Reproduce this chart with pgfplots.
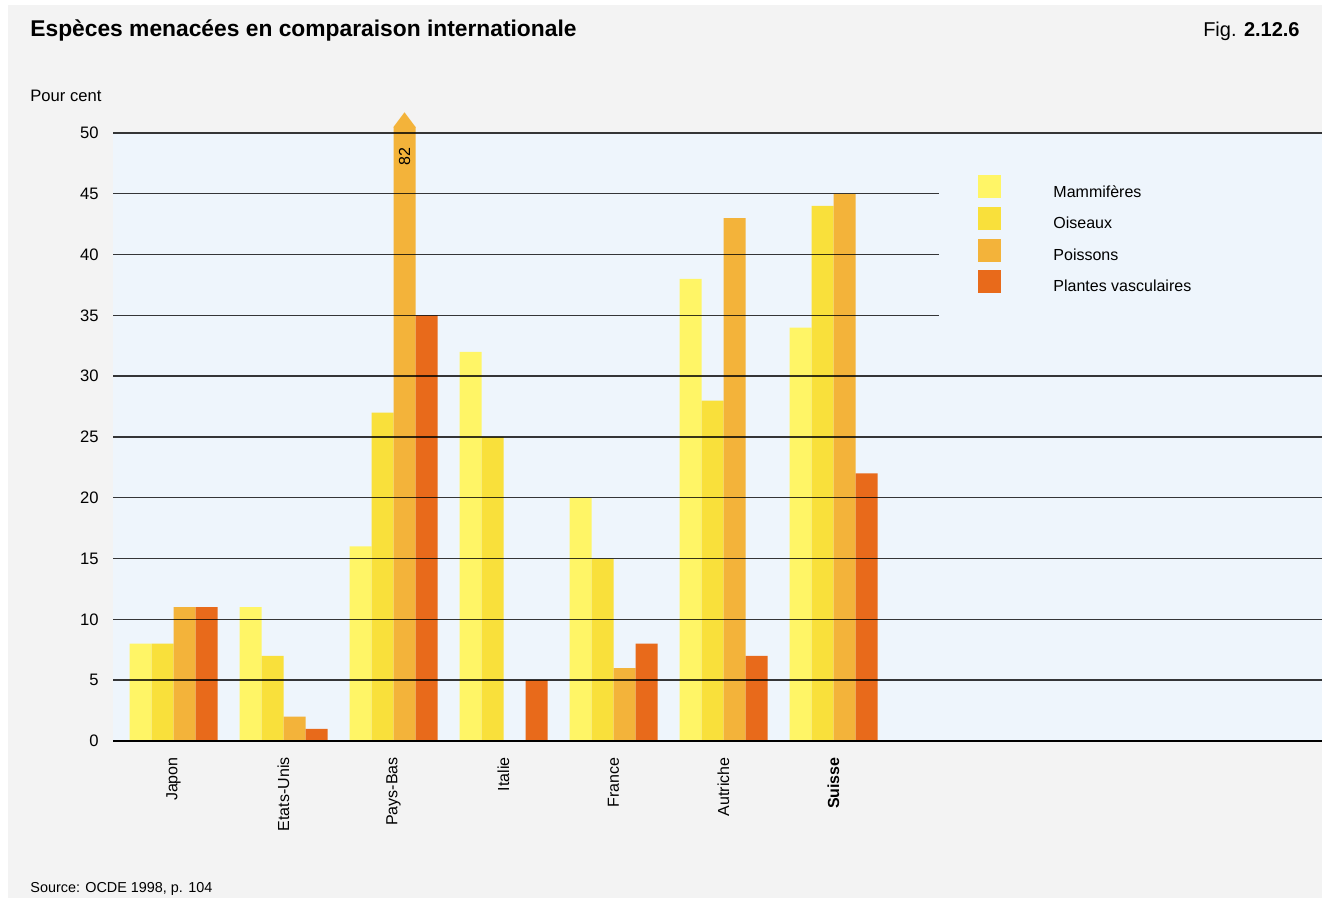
\documentclass[border=0pt]{standalone}
\usepackage{pgfplots}
\pgfplotsset{compat=1.18}
\usepackage{fontspec}
\setmainfont{Liberation Sans}
\definecolor{mam}{HTML}{FFF566}
\definecolor{ois}{HTML}{F9E03B}
\definecolor{poi}{HTML}{F3B33A}
\definecolor{pla}{HTML}{E86A1B}
\definecolor{bgblue}{HTML}{EEF5FC}
\definecolor{bggrey}{HTML}{F3F3F3}
\begin{document}
\begin{tikzpicture}
\fill[white] (0,0) rectangle (661pt,449pt);
\fill[bggrey] (4pt,0) rectangle (661pt,446.5pt);
\path[use as bounding box] (0,0) rectangle (661pt,449pt);
\node[anchor=base west, inner sep=0pt, font=\fontsize{11.4}{13}\selectfont\bfseries] at (15pt,430.5pt) {Espèces menacées en comparaison internationale};
\node[anchor=base east, inner sep=0pt, font=\fontsize{10}{12}\selectfont] at (650pt,430.5pt) {Fig. \textbf{2.12.6}};
\node[anchor=base west, inner sep=0pt, font=\fontsize{8.3}{10}\selectfont] at (15pt,398pt) {Pour cent};
\node[anchor=base west, inner sep=0pt, font=\fontsize{7.2}{9}\selectfont] at (15pt,2.5pt) {Source: OCDE 1998, p. 104};
\begin{axis}[
  at={(56.5pt,78.5pt)}, anchor=south west,
  scale only axis, width=604.5pt, height=304pt,
  xmin=-0.55, xmax=10.441, ymin=0, ymax=50,
  axis line style={draw=none},
  axis background/.style={fill=bgblue},
  clip=false,
  xtick={0,...,6},
  xticklabels={Japon,Etats-Unis,Pays-Bas,Italie,France,Autriche,\textbf{Suisse}},
  ytick={0,5,...,50},
  major tick length=0pt,
  tick style={draw=none},
  /pgf/number format/assume math mode=true,
  yticklabel style={anchor=east, inner sep=0pt, font=\fontsize{8.3}{10}\selectfont},
  yticklabel shift=7pt,
  xticklabel style={rotate=90, anchor=east, inner sep=0pt, font=\fontsize{8}{10}\selectfont},
  xticklabel shift=8pt,
  legend style={at={(0.7155,0.9309)}, anchor=north west, draw=none, fill=none,
    inner sep=0pt, row sep=3.5pt, font=\fontsize{8}{10}\selectfont,
    nodes={inner sep=0pt}},
  legend cell align=left,
  legend image code/.code={\fill[#1] (0pt,-2.9pt) rectangle (11.5pt,8.6pt); \path (37.5pt,0pt);},
  gridline/.style={black, opacity=0.78, line width=0.7pt},
]
\addplot[ybar, bar width=0.2, bar shift=-0.3, fill=mam, draw=none] coordinates
  {(0,8) (1,11) (2,16) (3,32) (4,20) (5,38) (6,34)};
\addplot[ybar, bar width=0.2, bar shift=-0.1, fill=ois, draw=none] coordinates
  {(0,8) (1,7) (2,27) (3,25) (4,15) (5,28) (6,44)};
\addplot[ybar, bar width=0.2, bar shift=0.1, fill=poi, draw=none,
  y filter/.expression={y>50.5 ? 50.5 : y}] coordinates
  {(0,11) (1,2) (2,82) (4,6) (5,43) (6,45)};
\addplot[ybar, bar width=0.2, bar shift=0.3, fill=pla, draw=none] coordinates
  {(0,11) (1,1) (2,35) (3,5) (4,8) (5,7) (6,22)};
\legend{Mammifères,Oiseaux,Poissons,Plantes vasculaires}
% arrow tip of the clipped bar (value 82)
\fill[poi] (axis cs:2.0,50.45) -- (axis cs:2.2,50.45) -- (axis cs:2.2,50.5) -- (axis cs:2.1,51.7) -- (axis cs:2.0,50.5) -- cycle;
\node[rotate=90, inner sep=0pt, font=\fontsize{8}{10}\selectfont] at (axis cs:2.1,48.1) {82};
% grid lines
\pgfplotsinvokeforeach{5,10,15,20,25,30,50}{
  \addplot[forget plot, gridline] coordinates {(-0.55,#1) (10.441,#1)};
}
\pgfplotsinvokeforeach{35,40,45}{
  \addplot[forget plot, gridline] coordinates {(-0.55,#1) (6.96,#1)};
}
\addplot[forget plot, black, line width=1pt] coordinates {(-0.55,0) (10.441,0)};
\end{axis}
\end{tikzpicture}
\end{document}
